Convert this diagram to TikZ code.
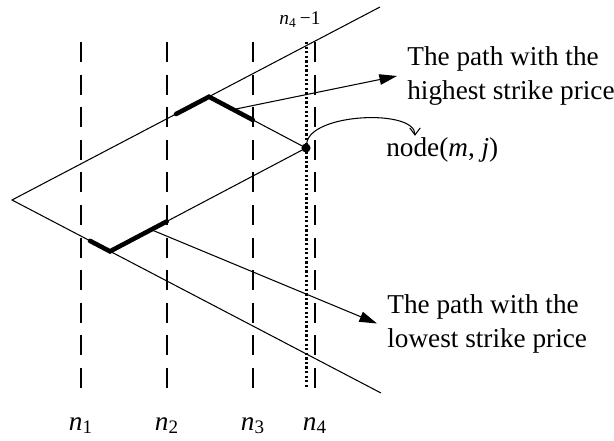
\documentclass[tikz,border=0pt]{standalone}
\usepackage{fontspec}
\setmainfont{Liberation Serif}
\usetikzlibrary{arrows.meta, calc}

\begin{document}
\begin{tikzpicture}[
    stepline/.style={line width=1.6pt, dash pattern=on 0.4cm off 0.252cm},
    thinline/.style={line width=0.6pt},
    pathpart/.style={line width=2.6pt, line cap=round},
    labeltext/.style={font=\fontsize{15.5}{19.4}\selectfont, align=left, inner xsep=0.2cm, inner ysep=0pt},
    pointer/.style={thinline, -{Triangle[length=10pt,width=6pt]}}
  ]
  \useasboundingbox (0,0) rectangle (12.28,8.8);
  \foreach \x/\k in {1.62/1, 3.34/2, 5.06/3, 6.30/4} {
    \draw[stepline] (\x,7.96) -- (\x,1.04);
    \node[font=\fontsize{15.5}{18}\selectfont, anchor=base] (n\k) at (\x,0.2) {\textit{n}\textsubscript{\k}};
  }
  \draw[line width=1.3pt, dash pattern=on 1.3pt off 1.3pt] (6.13,7.96) -- (6.13,1.04);
  \node[font=\fontsize{11}{12}\selectfont, anchor=base] (nlast) at (6.0,8.3) {\textit{n}\textsubscript{4}\,−1};

  \coordinate (apex) at (0.24,4.8);
  \coordinate (upEnd) at (7.6,8.66);
  \coordinate (loEnd) at (7.62,0.94);
  \coordinate (peak) at (4.18,6.865);
  \coordinate (valley) at (2.2,3.773);
  \draw[thinline] (upEnd) -- (apex) -- (loEnd);

  \node[circle, fill, inner sep=0pt, minimum size=5.2pt] (mj) at (6.12,5.84) {};
  \draw[thinline] (peak) -- (mj.center) -- (valley);
  \draw[pathpart] ($(apex)!0.8325!(peak)$) -- (peak) -- ($(peak)!0.451!(mj.center)$);
  \draw[pathpart] ($(apex)!0.796!(valley)$) -- (valley) -- ($(valley)!0.29!(mj.center)$);

  \node[labeltext, anchor=west] (hiText) at (7.94,7.28) {The path with the\\highest strike price};
  \node[labeltext, anchor=west] (loText) at (7.54,2.33) {The path with the\\lowest strike price};
  \node[labeltext, anchor=west] (mjText) at (7.52,5.8) {node(\textit{m}, \textit{j})};

  \draw[pointer] ($(peak)!0.25!(mj.center)$) -- (hiText.west);
  \draw[pointer] ($(valley)!0.21!(mj.center)$) -- (loText.west);
  \draw[thinline, -{Straight Barb[length=4pt,width=6pt]}] (mj)
    .. controls +(0.1,0.7) and +(0,0.54) .. ($(mjText.north west)+(0.78,0.03)$);
\end{tikzpicture}
\end{document}
